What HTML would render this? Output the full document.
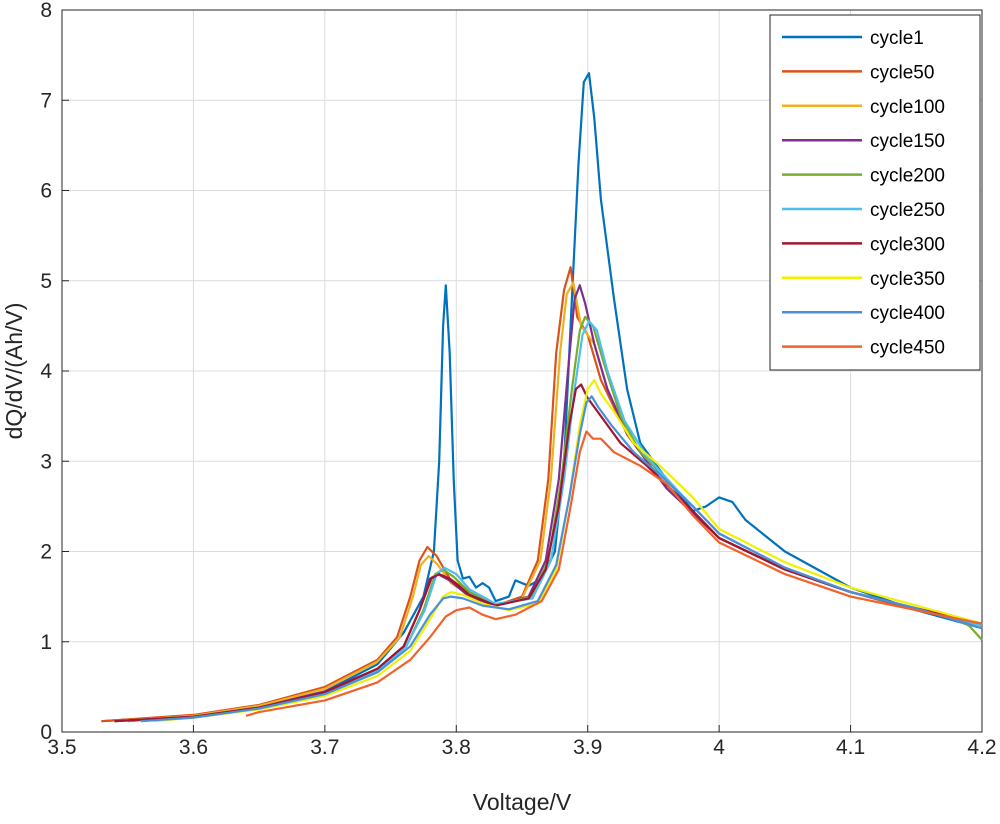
<!DOCTYPE html>
<html><head><meta charset="utf-8"><style>
body{margin:0;background:#fff}
svg{font-family:"Liberation Sans",Arial,sans-serif}
</style></head><body>
<svg id="chart" width="1000" height="819" viewBox="0 0 1000 819" xmlns="http://www.w3.org/2000/svg"></svg>
<script>
const xTicks=[3.5,3.6,3.7,3.8,3.9,4,4.1,4.2];
const xTickLabels=["3.5","3.6","3.7","3.8","3.9","4","4.1","4.2"];
const yTicks=[0,1,2,3,4,5,6,7,8];
const seriesNames=["cycle1","cycle50","cycle100","cycle150","cycle200","cycle250","cycle300","cycle350","cycle400","cycle450"];
const seriesColors=["#0072BD","#D95319","#EDB120","#7E2F8E","#77AC30","#4DBEEE","#A2142F","#F0F000","#4A90D9","#F2622A"];
const c1=[[3.53,0.12],[3.6,0.18],[3.65,0.28],[3.7,0.45],[3.74,0.75],[3.76,1.1],[3.775,1.5],[3.783,2.0],[3.787,3.0],[3.79,4.5],[3.792,4.95],[3.795,4.2],[3.798,2.8],[3.801,1.9],[3.805,1.7],[3.81,1.72],[3.815,1.6],[3.82,1.65],[3.825,1.6],[3.83,1.45],[3.84,1.5],[3.845,1.68],[3.855,1.62],[3.865,1.7],[3.875,2.0],[3.882,3.0],[3.888,4.8],[3.893,6.3],[3.897,7.2],[3.901,7.3],[3.905,6.8],[3.91,5.9],[3.92,4.8],[3.93,3.8],[3.94,3.2],[3.96,2.8],[3.98,2.45],[3.99,2.5],[4.0,2.6],[4.01,2.55],[4.02,2.35],[4.05,2.0],[4.1,1.6],[4.15,1.35],[4.2,1.15]];
const c50=[[3.53,0.12],[3.6,0.19],[3.65,0.3],[3.7,0.5],[3.74,0.8],[3.755,1.05],[3.765,1.5],[3.772,1.9],[3.778,2.05],[3.785,1.95],[3.795,1.7],[3.81,1.55],[3.83,1.4],[3.85,1.5],[3.862,1.9],[3.87,2.8],[3.876,4.2],[3.882,4.9],[3.887,5.15],[3.892,4.6],[3.9,4.4],[3.91,3.9],[3.93,3.3],[3.96,2.7],[4.0,2.15],[4.05,1.8],[4.1,1.55],[4.15,1.35],[4.2,1.2]];
const c100=[[3.54,0.12],[3.6,0.18],[3.65,0.29],[3.7,0.48],[3.74,0.78],[3.757,1.05],[3.767,1.5],[3.773,1.85],[3.779,1.95],[3.786,1.85],[3.796,1.65],[3.81,1.52],[3.83,1.4],[3.85,1.48],[3.864,1.9],[3.872,2.8],[3.879,4.2],[3.884,4.85],[3.889,4.98],[3.895,4.5],[3.905,4.3],[3.915,3.8],[3.93,3.3],[3.96,2.7],[4.0,2.15],[4.05,1.8],[4.1,1.55],[4.15,1.37],[4.2,1.2]];
const c150=[[3.54,0.12],[3.6,0.17],[3.65,0.27],[3.7,0.45],[3.74,0.7],[3.76,0.95],[3.772,1.35],[3.78,1.7],[3.786,1.75],[3.795,1.68],[3.81,1.5],[3.83,1.4],[3.855,1.5],[3.868,1.9],[3.878,2.8],[3.885,4.0],[3.89,4.8],[3.894,4.95],[3.898,4.75],[3.905,4.3],[3.915,3.8],[3.93,3.3],[3.96,2.7],[4.0,2.15],[4.05,1.8],[4.1,1.55],[4.15,1.37],[4.2,1.2]];
const c200=[[3.55,0.12],[3.6,0.17],[3.65,0.27],[3.7,0.43],[3.74,0.68],[3.762,0.95],[3.775,1.35],[3.784,1.75],[3.79,1.8],[3.798,1.72],[3.81,1.55],[3.83,1.4],[3.857,1.5],[3.87,1.9],[3.88,2.8],[3.888,3.8],[3.894,4.45],[3.898,4.6],[3.904,4.5],[3.912,4.1],[3.925,3.5],[3.94,3.1],[3.97,2.65],[4.0,2.2],[4.05,1.82],[4.1,1.55],[4.17,1.3],[4.19,1.18],[4.2,1.02]];
const c250=[[3.55,0.12],[3.6,0.17],[3.65,0.27],[3.7,0.43],[3.74,0.68],[3.762,0.95],[3.776,1.35],[3.785,1.75],[3.791,1.82],[3.8,1.75],[3.81,1.58],[3.83,1.42],[3.858,1.48],[3.872,1.9],[3.882,2.8],[3.89,3.8],[3.896,4.4],[3.901,4.55],[3.907,4.45],[3.915,4.0],[3.928,3.45],[3.945,3.05],[3.97,2.65],[4.0,2.2],[4.05,1.82],[4.1,1.55],[4.15,1.37],[4.2,1.18]];
const c300=[[3.54,0.12],[3.6,0.17],[3.65,0.27],[3.7,0.44],[3.74,0.7],[3.76,0.95],[3.772,1.35],[3.781,1.7],[3.787,1.75],[3.795,1.7],[3.81,1.52],[3.83,1.4],[3.855,1.48],[3.868,1.8],[3.878,2.5],[3.886,3.4],[3.891,3.8],[3.895,3.85],[3.9,3.7],[3.91,3.5],[3.925,3.2],[3.945,2.95],[3.97,2.6],[4.0,2.15],[4.05,1.8],[4.1,1.55],[4.15,1.37],[4.2,1.2]];
const c350=[[3.57,0.12],[3.6,0.16],[3.65,0.25],[3.7,0.4],[3.74,0.62],[3.765,0.9],[3.78,1.25],[3.79,1.5],[3.796,1.55],[3.805,1.52],[3.82,1.42],[3.84,1.35],[3.862,1.42],[3.876,1.8],[3.886,2.6],[3.894,3.4],[3.9,3.8],[3.905,3.9],[3.91,3.75],[3.92,3.55],[3.935,3.2],[3.955,2.95],[3.98,2.6],[4.0,2.25],[4.05,1.88],[4.1,1.6],[4.15,1.4],[4.2,1.2]];
const c400=[[3.56,0.12],[3.6,0.16],[3.65,0.26],[3.7,0.42],[3.74,0.66],[3.765,0.95],[3.78,1.3],[3.79,1.48],[3.796,1.5],[3.805,1.48],[3.82,1.4],[3.84,1.36],[3.862,1.45],[3.876,1.85],[3.886,2.6],[3.894,3.3],[3.899,3.65],[3.903,3.72],[3.908,3.6],[3.918,3.4],[3.935,3.1],[3.955,2.85],[3.98,2.5],[4.0,2.2],[4.05,1.82],[4.1,1.55],[4.15,1.37],[4.2,1.15]];
const c450=[[3.64,0.18],[3.65,0.22],[3.7,0.35],[3.74,0.55],[3.765,0.8],[3.78,1.05],[3.792,1.28],[3.8,1.35],[3.81,1.38],[3.82,1.3],[3.83,1.25],[3.845,1.3],[3.865,1.45],[3.878,1.8],[3.887,2.5],[3.894,3.1],[3.899,3.33],[3.904,3.25],[3.91,3.25],[3.92,3.1],[3.94,2.95],[3.96,2.75],[3.98,2.4],[4.0,2.1],[4.05,1.75],[4.1,1.5],[4.15,1.35],[4.2,1.2]];
const seriesData=[c1,c50,c100,c150,c200,c250,c300,c350,c400,c450];

const X0=62,X1=982,Y0=732,Y1=10;
const xs=v=>X0+(v-3.5)/0.7*(X1-X0);
const ys=v=>Y0-v/8*(Y0-Y1);
const svg=document.getElementById('chart');
const NS="http://www.w3.org/2000/svg";
function mk(tag,attrs,parent){const e=document.createElementNS(NS,tag);for(const k in attrs)e.setAttribute(k,attrs[k]);(parent||svg).appendChild(e);return e;}
const grid=mk('g',{});


xTicks.forEach((t,i)=>{
 mk('line',{x1:xs(t),x2:xs(t),y1:Y1,y2:Y0,stroke:'#dcdcdc','stroke-width':1},grid);
 mk('line',{x1:xs(t),x2:xs(t),y1:Y0,y2:Y0-7,stroke:'#262626'},grid);
 const tx=mk('text',{x:xs(t),y:Y0+22,'text-anchor':'middle','font-size':21,fill:'#262626'});
 
 
 tx.textContent=xTickLabels[i];
});
yTicks.forEach(t=>{
 mk('line',{x1:X0,x2:X1,y1:ys(t),y2:ys(t),stroke:'#dcdcdc','stroke-width':1},grid);
 mk('line',{x1:X0,x2:X0+7,y1:ys(t),y2:ys(t),stroke:'#262626'},grid);
 const tx=mk('text',{x:X0-10,y:ys(t)+7,'text-anchor':'end','font-size':21,fill:'#262626'});
 
 
 tx.textContent=String(t);
});
const frame=mk('rect',{x:X0,y:Y1,width:X1-X0,height:Y0-Y1,fill:'none',stroke:'#262626','stroke-width':1});


seriesData.forEach((d,i)=>{
 const p=mk('polyline',{points:d.map(q=>xs(q[0]).toFixed(1)+','+ys(q[1]).toFixed(1)).join(' '),fill:'none',stroke:seriesColors[i],'stroke-width':2.2,'stroke-linejoin':'round'});
 
 
});
const xl=mk('text',{x:(X0+X1)/2,y:810,'text-anchor':'middle','font-size':23,fill:'#262626'});


xl.textContent='Voltage/V';
const yl=mk('text',{x:22,y:(Y0+Y1)/2,'text-anchor':'middle','font-size':23,fill:'#262626',transform:'rotate(-90 22 '+(Y0+Y1)/2+')'});


yl.textContent='dQ/dV/(Ah/V)';
const lg=mk('g',{});


mk('rect',{x:770,y:15,width:210,height:355,fill:'#fff',stroke:'#262626','stroke-width':1},lg);
seriesNames.forEach((n,i)=>{
 const y=37+i*34.4;
 const g=mk('g',{},lg);
 
 
 mk('line',{x1:782,x2:862,y1:y,y2:y,stroke:seriesColors[i],'stroke-width':2.5},g);
 const t=mk('text',{x:870,y:y+7,'font-size':19,fill:'#000'},g);
 t.textContent=n;
});
</script>
</body></html>
